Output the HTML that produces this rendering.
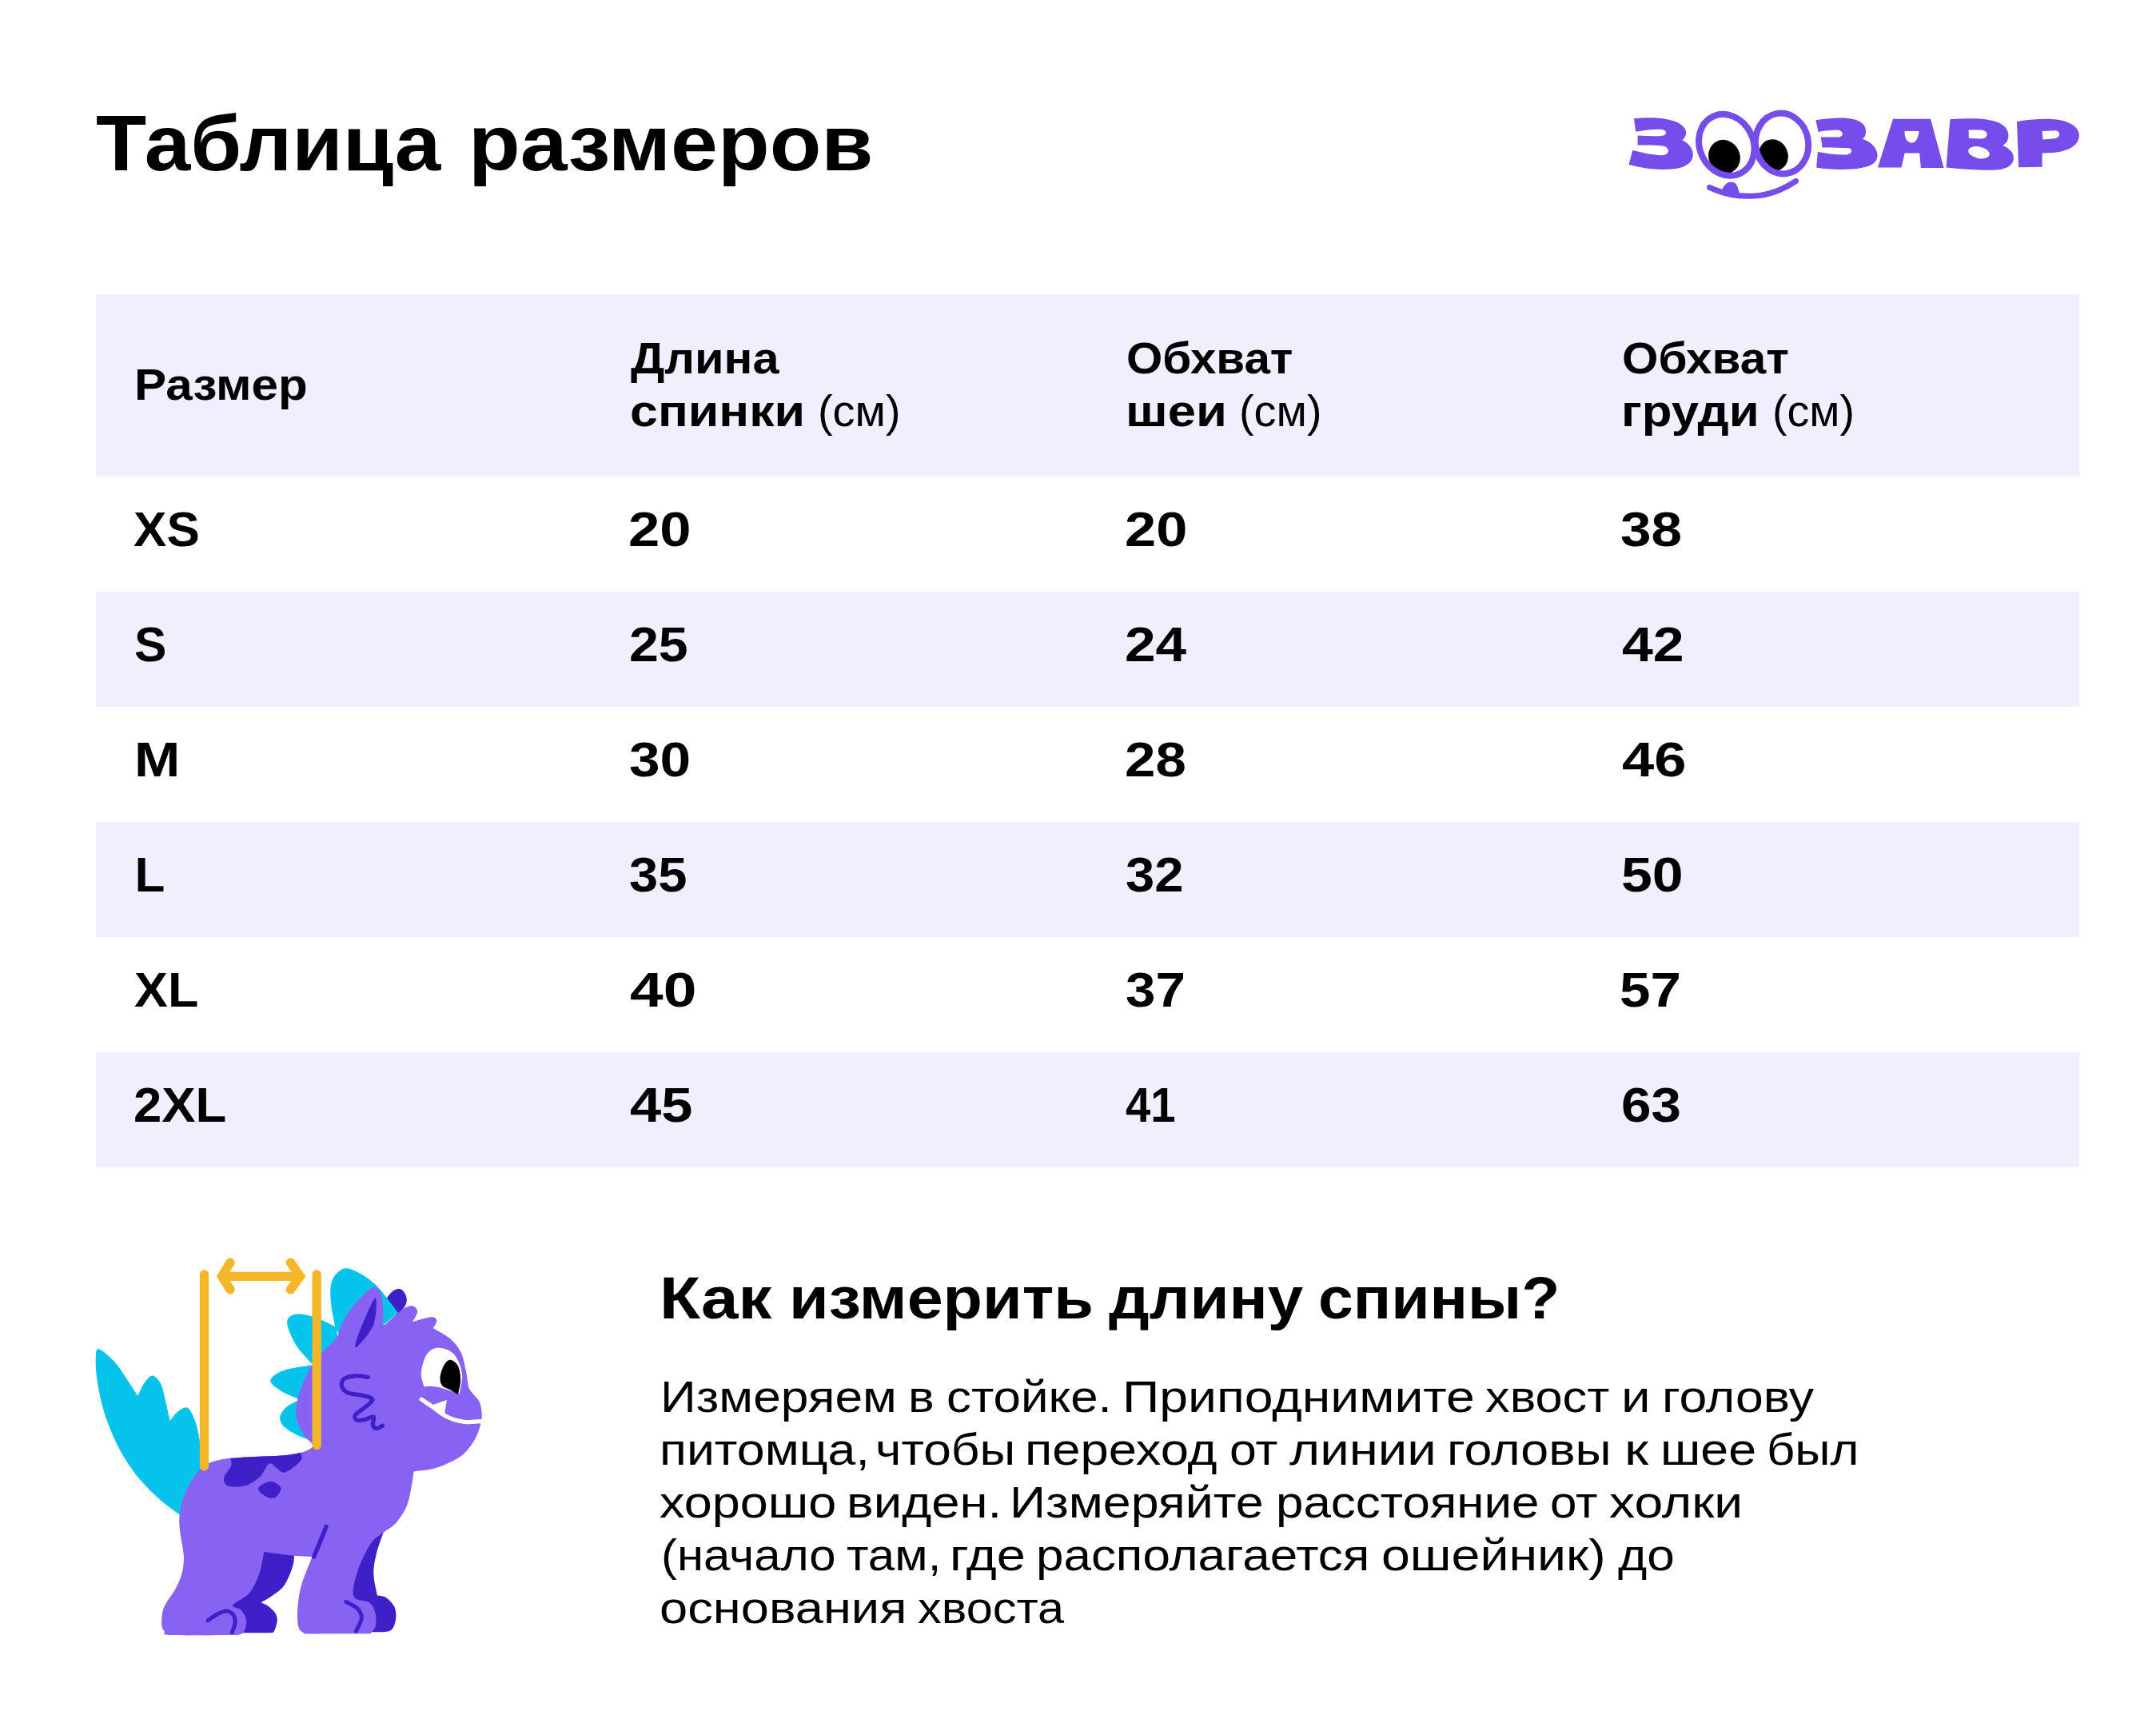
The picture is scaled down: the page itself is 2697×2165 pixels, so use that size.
<!DOCTYPE html>
<html><head><meta charset="utf-8"><style>
html,body{margin:0;padding:0;background:#fff;}
body{width:2697px;height:2165px;position:relative;overflow:hidden;}
.b{position:absolute;left:120px;width:2481px;background:#F1EFFD;}
.t{position:absolute;white-space:nowrap;color:#000;font-family:"Liberation Sans",sans-serif;transform-origin:0 0;}
svg{position:absolute;left:0;top:0;}
</style></head><body>
<div class="b" style="top:368px;height:228px"></div>
<div class="b" style="top:740px;height:144px"></div>
<div class="b" style="top:1028px;height:144px"></div>
<div class="b" style="top:1316px;height:144px"></div>
<svg width="2697" height="2165" viewBox="0 0 2697 2165">
<g fill="#764CEB" fill-rule="evenodd">
<path d="M2043.9,148.3 C2065,146 2092,147.5 2103,156 C2111,162 2111,170 2104.2,175.2 C2115,180 2120,190 2117,198 C2113,209 2098,212 2080,212 C2065,212 2050,209 2037.5,206 L2042.2,188 C2055,191 2068,194 2078,194.3 C2090,194.5 2090,183 2078,182.3 C2068,181.7 2058,181.6 2048.6,181.6 L2048.6,169.4 C2060,170 2072,170.5 2078,170 C2087,169 2086,162 2077,161.7 C2066,161.3 2055,163 2046.2,164.8 Z"/><path d="M2271.4,150.3 C2285,148 2300,147 2312,148 C2330,150 2335,158 2334,166 C2333.5,170 2332,172 2329.8,173.8 C2342,178 2348.5,186 2348.5,194.5 C2348.5,206 2335,211.5 2305,212 C2290,212 2280,211 2272.2,209.5 L2273.8,190.1 C2285,192 2298,193.5 2308.7,193.6 C2318,193.5 2318,185.5 2312,185.2 C2300,184.7 2290,184.5 2279.5,184.4 L2277.9,171.4 C2285,171.4 2293,171.4 2300.6,171.4 C2306,171 2307,164 2299,162.5 C2290,162.5 2282,163.5 2274.6,164.9 Z"/><path d="M2368,148.7 L2415,148.7 L2431.6,209.9 L2402.9,209.9 L2401.2,191.4 L2382.6,191.4 L2378.5,209.5 L2349,209.5 Z M2382.6,164.1 L2400.4,164.1 C2400,172 2397,178.7 2391.5,178.7 C2386,178.7 2382,173 2382.6,164.1 Z"/><path d="M2439.4,149.2 C2455,148.3 2465,148 2475,148.5 C2500,150 2512,157 2512.4,169 C2512.5,176 2509,180 2505.1,182 C2515,186 2519,192 2518.9,198 C2518.5,208 2508,212.8 2490.5,212.8 C2470,212.8 2450,211 2434.5,209.5 Z M2462.6,162.5 L2478,162.5 C2484,163 2486,166 2485.6,169 C2485,172 2482,173.5 2478,173.5 L2462.9,173 Z"/><path d="M2523,151.9 C2535,149.8 2548,148.7 2560.3,148.7 C2585,148.7 2600.5,157 2600.9,169 C2601,180 2590,189 2568.4,190.9 L2554.6,191.4 L2554.6,208.7 L2525.1,209.2 Z M2554.6,164.1 L2571.7,163.3 C2576,164 2576.5,168 2575.7,170 C2574,172.5 2571,173.5 2568.4,173.5 L2555.5,174.6 Z"/>
<ellipse cx="2475.5" cy="190.8" rx="13.5" ry="7.3" transform="rotate(12 2475.5 190.8)" fill="#fff"/>
</g>
<defs>
<clipPath id="e1"><ellipse cx="2159.8" cy="181.3" rx="33" ry="39" transform="rotate(-26 2159.8 181.3)"/></clipPath>
<clipPath id="e2"><ellipse cx="2229.1" cy="179.5" rx="33" ry="38" transform="rotate(-10 2229.1 179.5)"/></clipPath>
</defs>
<g clip-path="url(#e1)"><ellipse cx="2157" cy="196" rx="19.5" ry="21.5" transform="rotate(-25 2157 196)" fill="#000"/></g>
<g clip-path="url(#e2)"><ellipse cx="2218.5" cy="194" rx="18" ry="20" transform="rotate(-25 2218.5 194)" fill="#000"/></g>
<ellipse cx="2159.8" cy="181.3" rx="33.5" ry="39.5" transform="rotate(-26 2159.8 181.3)" fill="none" stroke="#764CEB" stroke-width="8"/>
<ellipse cx="2229.1" cy="179.5" rx="33" ry="38" transform="rotate(-10 2229.1 179.5)" fill="none" stroke="#764CEB" stroke-width="8"/>
<path d="M2138.5,234.5 C2160,244 2175,246 2195,245 C2215,244 2232,236 2246.5,226.5" fill="none" stroke="#764CEB" stroke-width="7" stroke-linecap="round"/>
<path d="M2153,240 C2157,230 2161,227.5 2166,227.5 C2171,227.5 2174,232 2176,243 L2165,245 Z" fill="#764CEB"/>

<defs><clipPath id="bodyclip"><path d="M370.3,1760.6 C371.2,1753.4 374.0,1743.2 377.2,1734.6 C380.4,1725.9 384.4,1716.5 389.3,1708.7 C394.2,1700.9 401.5,1693.7 406.7,1687.9 C411.9,1682.1 417.0,1679.2 420.5,1674.0 C424.0,1668.8 424.0,1663.4 427.5,1656.7 C431.0,1650.0 435.2,1641.6 441.3,1634.1 C447.4,1626.6 458.6,1615.3 463.8,1611.6 C469.0,1607.8 470.2,1609.9 472.5,1611.6 C474.8,1613.3 476.6,1616.8 477.7,1622.0 C478.8,1627.2 479.2,1636.9 479.4,1642.8 C479.5,1648.7 478.9,1652.6 478.6,1657.5 C480.3,1656.6 479.6,1658.2 483.8,1654.9 C488.0,1651.6 498.4,1641.2 503.7,1637.6 C509.0,1634.0 512.8,1633.1 515.8,1633.3 C518.8,1633.5 521.0,1636.6 521.9,1638.5 C522.8,1640.4 522.0,1642.0 521.0,1644.5 C520.0,1647.0 517.5,1650.3 515.8,1653.2 C522.2,1651.5 530.3,1648.9 534.9,1648.0 C539.5,1647.1 541.7,1647.1 543.6,1648.0 C545.5,1648.9 546.5,1651.0 546.2,1653.2 C545.9,1655.4 543.3,1658.4 541.8,1661.0 C548.7,1665.3 556.8,1669.0 562.6,1674.0 C568.4,1679.0 573.0,1684.1 576.5,1691.3 C580.0,1698.5 581.7,1709.8 583.4,1717.3 C585.1,1724.8 584.3,1730.6 586.9,1736.4 C589.5,1742.2 596.4,1747.1 599.0,1752.0 C601.6,1756.9 602.1,1761.2 602.5,1765.8 C602.9,1770.4 603.1,1773.9 601.6,1779.7 C600.1,1785.5 598.0,1793.6 593.8,1800.5 C589.6,1807.4 584.6,1815.4 576.5,1821.3 C568.4,1827.2 555.1,1832.8 545.3,1836.0 C535.5,1839.2 526.8,1838.9 517.6,1840.4 C516.6,1846.9 516.1,1852.7 514.6,1860.0 C513.1,1867.3 511.9,1876.5 508.6,1884.0 C505.4,1891.5 499.9,1899.7 495.1,1905.1 C490.4,1910.5 485.1,1912.4 480.1,1916.4 C475.1,1920.4 470.0,1922.2 465.0,1929.1 C460.0,1936.0 453.9,1947.9 450.0,1957.7 C446.1,1967.5 442.6,1980.7 441.8,1987.7 C441.1,1994.7 442.1,1997.0 445.5,1999.7 C448.9,2002.5 458.0,2001.2 462.0,2004.2 C466.0,2007.2 468.2,2012.7 469.5,2017.7 C470.8,2022.7 470.5,2030.0 469.5,2034.2 C468.5,2038.5 465.5,2040.2 463.5,2043.2 C436.1,2043.3 408.7,2043.3 381.3,2043.4 C378.8,2040.8 375.2,2040.6 373.7,2035.7 C372.2,2030.8 371.7,2023.0 372.2,2014.3 C372.7,2005.6 373.6,1994.9 376.7,1983.7 C379.8,1972.5 385.9,1959.2 390.5,1947.0 C383.1,1946.6 375.6,1946.5 368.2,1945.8 C360.8,1945.1 352.1,1943.7 345.8,1942.9 C339.5,1942.1 335.5,1941.6 330.3,1940.9 C328.3,1950.0 327.5,1959.6 324.4,1968.2 C321.3,1976.8 317.3,1985.9 311.8,1992.5 C306.3,1999.1 292.9,2004.0 291.3,2007.6 C289.7,2011.2 299.2,2010.9 302.0,2014.0 C304.8,2017.1 307.1,2022.3 307.9,2026.0 C308.7,2029.7 307.6,2033.3 307.0,2036.0 C306.4,2038.7 305.6,2040.7 304.0,2042.2 C302.4,2043.7 299.4,2044.1 297.1,2045.1 C269.5,2045.1 229.6,2045.9 214.3,2045.1 C199.1,2044.3 207.6,2042.6 205.6,2040.3 C203.6,2038.0 202.5,2035.7 202.2,2031.5 C201.9,2027.3 202.4,2019.8 203.6,2014.9 C204.8,2010.0 206.9,2006.8 209.5,2002.3 C212.1,1997.8 216.3,1993.1 219.2,1987.7 C222.1,1982.3 225.2,1976.1 227.0,1970.1 C228.8,1964.1 229.6,1956.8 229.9,1951.6 C230.2,1946.4 229.8,1945.2 229.0,1939.0 C228.2,1932.8 225.8,1921.9 225.1,1914.6 C224.4,1907.3 223.8,1902.1 224.6,1895.0 C225.4,1887.9 227.2,1879.3 229.8,1871.9 C232.5,1864.5 236.4,1856.9 240.5,1850.5 C244.6,1844.1 249.2,1837.7 254.3,1833.7 C259.4,1829.8 265.2,1828.5 271.1,1826.8 C277.0,1825.1 280.1,1824.6 289.5,1823.7 C298.9,1822.8 316.3,1822.0 327.8,1821.4 C339.3,1820.8 349.5,1820.9 358.4,1819.9 C367.3,1818.9 375.9,1817.3 381.3,1815.3 C386.7,1813.3 391.1,1811.3 391.0,1808.0 C390.9,1804.7 383.9,1800.3 380.7,1795.3 C377.5,1790.3 373.7,1783.8 372.0,1778.0 C370.3,1772.2 369.4,1767.8 370.3,1760.6 Z"/></clipPath></defs>
<path d="M478.0,1632.0 C482.0,1626.7 486.2,1619.3 490.0,1616.0 C493.8,1612.7 497.9,1611.3 501.0,1612.3 C504.1,1613.3 507.3,1618.5 508.3,1622.0 C509.3,1625.5 508.9,1629.2 507.0,1633.0 C505.1,1636.8 500.2,1641.0 496.8,1645.0 C490.5,1640.7 484.3,1636.3 478.0,1632.0 Z" fill="#3F20C8"/>
<g fill="#05C3EA"><path d="M123.8,1687.3 C127.7,1688.2 137.6,1697.2 143.3,1703.2 C149.0,1709.2 153.0,1716.3 157.8,1723.4 C162.6,1730.5 167.4,1738.3 172.2,1745.8 C175.1,1740.3 177.8,1733.4 180.9,1729.2 C184.0,1725.0 187.6,1720.3 191.0,1720.5 C194.4,1720.7 198.4,1725.3 201.1,1730.6 C203.8,1735.8 205.1,1744.3 207.0,1752.0 C208.9,1759.7 210.7,1768.6 212.6,1776.9 C216.0,1773.0 219.0,1768.0 222.7,1765.3 C226.4,1762.6 231.4,1758.8 235.0,1761.0 C238.6,1763.2 242.0,1771.8 244.4,1778.3 C246.8,1784.8 247.9,1790.5 249.5,1800.0 C251.1,1809.5 255.6,1824.7 254.0,1835.0 C252.4,1845.3 244.7,1853.0 240.0,1862.0 C235.2,1873.1 230.4,1884.2 225.6,1895.3 C217.4,1889.0 209.5,1884.0 201.1,1876.5 C192.7,1869.0 183.5,1860.8 175.1,1850.5 C166.7,1840.2 157.7,1827.7 150.5,1814.4 C143.3,1801.2 136.6,1785.4 131.8,1771.0 C127.0,1756.6 123.7,1740.0 121.7,1727.8 C119.7,1715.6 119.5,1704.8 119.8,1698.0 C120.1,1691.2 119.9,1686.4 123.8,1687.3 Z"/><path d="M428.3,1587.3 C433.3,1585.1 438.1,1586.7 445.0,1590.0 C451.9,1593.3 461.1,1598.3 470.0,1607.0 C478.9,1615.7 488.8,1630.3 498.2,1641.9 C478.8,1657.9 459.4,1674.0 440.0,1690.0 C433.2,1680.7 426.5,1671.3 419.7,1662.0 C417.8,1651.3 414.8,1639.8 414.0,1630.0 C413.2,1620.2 412.6,1610.1 415.0,1603.0 C417.4,1595.9 423.3,1589.5 428.3,1587.3 Z"/><path d="M359.8,1650.0 C361.5,1646.4 366.1,1643.8 372.0,1643.5 C377.9,1643.2 386.8,1645.2 395.0,1648.0 C403.2,1650.8 412.3,1656.0 421.0,1660.0 C422.3,1673.3 423.7,1686.7 425.0,1700.0 C413.2,1701.8 401.4,1703.5 389.6,1705.3 C383.7,1698.5 376.6,1691.7 372.0,1685.0 C367.4,1678.3 363.9,1670.9 361.9,1665.1 C359.9,1659.3 358.1,1653.6 359.8,1650.0 Z"/><path d="M338.2,1726.8 C338.7,1722.5 346.0,1717.3 355.0,1714.0 C364.0,1710.7 379.7,1709.3 392.0,1707.0 C393.0,1723.0 394.0,1739.0 395.0,1755.0 C386.8,1752.8 378.5,1750.7 370.3,1748.5 C364.2,1745.7 357.4,1743.6 352.0,1740.0 C346.6,1736.4 337.7,1731.1 338.2,1726.8 Z"/><path d="M350.3,1772.0 C351.0,1768.2 354.4,1763.3 358.0,1760.0 C361.6,1756.7 367.3,1754.7 372.0,1752.0 C380.7,1754.7 389.3,1757.3 398.0,1760.0 C398.0,1776.7 398.0,1793.3 398.0,1810.0 C395.2,1807.5 392.4,1804.9 389.6,1802.4 C382.4,1799.3 373.9,1796.2 368.0,1793.0 C362.1,1789.8 356.9,1786.5 354.0,1783.0 C351.1,1779.5 349.6,1775.8 350.3,1772.0 Z"/></g>
<path d="M328.0,1936.0 C341.4,1937.7 354.8,1939.3 368.2,1941.0 C367.6,1946.8 368.4,1951.4 366.3,1958.4 C364.2,1965.4 359.8,1976.6 355.6,1982.8 C351.4,1989.0 345.9,1991.8 341.0,1995.4 C336.1,1999.0 331.3,2001.3 326.4,2004.2 C329.0,2005.5 331.3,2006.0 334.2,2008.1 C337.1,2010.2 341.8,2013.8 343.9,2016.9 C346.0,2020.0 347.0,2022.7 346.8,2026.6 C346.6,2030.5 344.4,2037.7 342.9,2040.3 C341.4,2042.9 339.6,2041.6 338.0,2042.2 C323.7,2042.2 309.3,2042.2 295.0,2042.2 C291.7,2033.1 288.3,2024.1 285.0,2015.0 C290.0,2006.7 295.0,1998.3 300.0,1990.0 C305.0,1981.7 310.3,1974.0 315.0,1965.0 C319.7,1956.0 323.7,1945.7 328.0,1936.0 Z" fill="#3F20C8"/><path d="M482.0,1910.0 C478.3,1920.9 473.4,1932.9 471.0,1942.6 C468.6,1952.3 467.2,1959.4 467.3,1968.2 C467.4,1977.0 470.3,1986.2 471.8,1995.2 C475.6,1996.2 479.5,1995.7 483.1,1998.2 C486.7,2000.7 491.6,2005.7 493.6,2010.2 C495.6,2014.7 495.6,2020.7 495.1,2025.2 C494.6,2029.7 492.9,2034.6 490.6,2037.2 C488.4,2039.8 486.7,2040.4 481.6,2041.0 C476.5,2041.6 467.2,2041.0 460.0,2041.0 C451.7,2027.3 443.3,2013.7 435.0,2000.0 C436.7,1983.3 435.5,1964.2 440.0,1950.0 C444.5,1935.8 455.0,1921.7 462.0,1915.0 C469.0,1908.3 475.3,1911.7 482.0,1910.0 Z" fill="#3F20C8"/>
<path d="M370.3,1760.6 C371.2,1753.4 374.0,1743.2 377.2,1734.6 C380.4,1725.9 384.4,1716.5 389.3,1708.7 C394.2,1700.9 401.5,1693.7 406.7,1687.9 C411.9,1682.1 417.0,1679.2 420.5,1674.0 C424.0,1668.8 424.0,1663.4 427.5,1656.7 C431.0,1650.0 435.2,1641.6 441.3,1634.1 C447.4,1626.6 458.6,1615.3 463.8,1611.6 C469.0,1607.8 470.2,1609.9 472.5,1611.6 C474.8,1613.3 476.6,1616.8 477.7,1622.0 C478.8,1627.2 479.2,1636.9 479.4,1642.8 C479.5,1648.7 478.9,1652.6 478.6,1657.5 C480.3,1656.6 479.6,1658.2 483.8,1654.9 C488.0,1651.6 498.4,1641.2 503.7,1637.6 C509.0,1634.0 512.8,1633.1 515.8,1633.3 C518.8,1633.5 521.0,1636.6 521.9,1638.5 C522.8,1640.4 522.0,1642.0 521.0,1644.5 C520.0,1647.0 517.5,1650.3 515.8,1653.2 C522.2,1651.5 530.3,1648.9 534.9,1648.0 C539.5,1647.1 541.7,1647.1 543.6,1648.0 C545.5,1648.9 546.5,1651.0 546.2,1653.2 C545.9,1655.4 543.3,1658.4 541.8,1661.0 C548.7,1665.3 556.8,1669.0 562.6,1674.0 C568.4,1679.0 573.0,1684.1 576.5,1691.3 C580.0,1698.5 581.7,1709.8 583.4,1717.3 C585.1,1724.8 584.3,1730.6 586.9,1736.4 C589.5,1742.2 596.4,1747.1 599.0,1752.0 C601.6,1756.9 602.1,1761.2 602.5,1765.8 C602.9,1770.4 603.1,1773.9 601.6,1779.7 C600.1,1785.5 598.0,1793.6 593.8,1800.5 C589.6,1807.4 584.6,1815.4 576.5,1821.3 C568.4,1827.2 555.1,1832.8 545.3,1836.0 C535.5,1839.2 526.8,1838.9 517.6,1840.4 C516.6,1846.9 516.1,1852.7 514.6,1860.0 C513.1,1867.3 511.9,1876.5 508.6,1884.0 C505.4,1891.5 499.9,1899.7 495.1,1905.1 C490.4,1910.5 485.1,1912.4 480.1,1916.4 C475.1,1920.4 470.0,1922.2 465.0,1929.1 C460.0,1936.0 453.9,1947.9 450.0,1957.7 C446.1,1967.5 442.6,1980.7 441.8,1987.7 C441.1,1994.7 442.1,1997.0 445.5,1999.7 C448.9,2002.5 458.0,2001.2 462.0,2004.2 C466.0,2007.2 468.2,2012.7 469.5,2017.7 C470.8,2022.7 470.5,2030.0 469.5,2034.2 C468.5,2038.5 465.5,2040.2 463.5,2043.2 C436.1,2043.3 408.7,2043.3 381.3,2043.4 C378.8,2040.8 375.2,2040.6 373.7,2035.7 C372.2,2030.8 371.7,2023.0 372.2,2014.3 C372.7,2005.6 373.6,1994.9 376.7,1983.7 C379.8,1972.5 385.9,1959.2 390.5,1947.0 C383.1,1946.6 375.6,1946.5 368.2,1945.8 C360.8,1945.1 352.1,1943.7 345.8,1942.9 C339.5,1942.1 335.5,1941.6 330.3,1940.9 C328.3,1950.0 327.5,1959.6 324.4,1968.2 C321.3,1976.8 317.3,1985.9 311.8,1992.5 C306.3,1999.1 292.9,2004.0 291.3,2007.6 C289.7,2011.2 299.2,2010.9 302.0,2014.0 C304.8,2017.1 307.1,2022.3 307.9,2026.0 C308.7,2029.7 307.6,2033.3 307.0,2036.0 C306.4,2038.7 305.6,2040.7 304.0,2042.2 C302.4,2043.7 299.4,2044.1 297.1,2045.1 C269.5,2045.1 229.6,2045.9 214.3,2045.1 C199.1,2044.3 207.6,2042.6 205.6,2040.3 C203.6,2038.0 202.5,2035.7 202.2,2031.5 C201.9,2027.3 202.4,2019.8 203.6,2014.9 C204.8,2010.0 206.9,2006.8 209.5,2002.3 C212.1,1997.8 216.3,1993.1 219.2,1987.7 C222.1,1982.3 225.2,1976.1 227.0,1970.1 C228.8,1964.1 229.6,1956.8 229.9,1951.6 C230.2,1946.4 229.8,1945.2 229.0,1939.0 C228.2,1932.8 225.8,1921.9 225.1,1914.6 C224.4,1907.3 223.8,1902.1 224.6,1895.0 C225.4,1887.9 227.2,1879.3 229.8,1871.9 C232.5,1864.5 236.4,1856.9 240.5,1850.5 C244.6,1844.1 249.2,1837.7 254.3,1833.7 C259.4,1829.8 265.2,1828.5 271.1,1826.8 C277.0,1825.1 280.1,1824.6 289.5,1823.7 C298.9,1822.8 316.3,1822.0 327.8,1821.4 C339.3,1820.8 349.5,1820.9 358.4,1819.9 C367.3,1818.9 375.9,1817.3 381.3,1815.3 C386.7,1813.3 391.1,1811.3 391.0,1808.0 C390.9,1804.7 383.9,1800.3 380.7,1795.3 C377.5,1790.3 373.7,1783.8 372.0,1778.0 C370.3,1772.2 369.4,1767.8 370.3,1760.6 Z" fill="#8862F2"/>
<g clip-path="url(#bodyclip)" fill="#3F20C8"><path d="M284.9,1815.0 C286.4,1820.7 290.3,1826.7 289.5,1832.1 C288.7,1837.5 281.1,1843.2 280.3,1847.5 C279.5,1851.8 280.6,1856.4 284.9,1858.2 C289.2,1860.0 299.7,1860.0 306.3,1858.2 C312.9,1856.4 319.6,1852.1 324.7,1847.5 C329.8,1842.9 333.3,1832.5 336.9,1830.6 C340.4,1828.7 342.7,1834.2 346.0,1836.0 C349.3,1837.8 351.7,1843.0 356.8,1841.3 C361.9,1839.6 373.9,1830.9 376.7,1826.0 C379.5,1821.1 374.7,1816.7 373.7,1812.0 C344.1,1813.0 314.5,1814.0 284.9,1815.0 Z"/><path d="M323.2,1861.2 C324.5,1858.3 333.8,1852.8 338.5,1852.8 C343.2,1852.8 350.7,1857.8 351.5,1861.2 C352.3,1864.7 346.6,1872.0 343.1,1873.5 C339.7,1875.0 334.1,1872.5 330.8,1870.4 C327.5,1868.4 321.9,1864.1 323.2,1861.2 Z"/></g>
<path d="M469.0,1623.7 C472.0,1622.0 471.2,1646.5 467.3,1656.7 C463.4,1667.0 448.6,1683.5 445.6,1685.2 C442.6,1686.9 445.2,1677.2 449.1,1667.0 C453.0,1656.8 466.0,1625.4 469.0,1623.7 Z" fill="#3F20C8"/>
<path d="M527.1,1714.7 C528.0,1709.5 530.2,1699.6 533.2,1694.8 C536.2,1690.0 540.4,1687.0 545.3,1686.1 C550.2,1685.2 558.0,1687.0 562.6,1689.6 C567.2,1692.2 570.4,1696.5 573.0,1701.7 C575.6,1706.9 577.9,1713.9 578.2,1720.8 C578.5,1727.7 575.9,1735.8 574.8,1743.3 C567.9,1741.0 560.1,1738.0 554.0,1736.4 C547.9,1734.8 542.3,1734.1 538.4,1733.8 C534.5,1733.5 533.2,1734.3 530.6,1734.6 C529.7,1731.7 528.6,1729.3 528.0,1726.0 C527.4,1722.7 526.2,1719.9 527.1,1714.7 Z" fill="#fff"/>
<path d="M550.5,1722.5 C550.9,1718.2 553.5,1710.5 555.7,1706.9 C557.9,1703.3 560.6,1700.5 563.5,1700.8 C566.4,1701.1 570.9,1704.4 573.0,1708.6 C575.1,1712.8 576.2,1720.1 576.2,1726.0 C576.2,1731.9 574.1,1738.1 573.0,1744.2 C569.5,1742.2 565.9,1740.0 562.6,1738.1 C559.3,1736.2 555.1,1735.5 553.1,1732.9 C551.1,1730.3 550.1,1726.8 550.5,1722.5 Z" fill="#000"/>
<path d="M527.1,1750.2 C529.3,1751.7 534.8,1755.3 540.1,1758.9 C545.4,1762.5 552.2,1768.7 558.9,1771.9 C565.6,1775.2 573.4,1777.5 580.5,1778.4 C587.6,1779.4 598.0,1777.7 601.5,1777.6" fill="none" stroke="#fff" stroke-width="5.2" stroke-linecap="round"/>
<path d="M538.5,1758 L558.9,1750.9 L556,1769 Z" fill="#fff"/>
<path d="M460.4,1722.5 C457.8,1722.2 449.7,1720.5 444.8,1720.8 C439.9,1721.1 433.8,1722.2 430.9,1724.2 C428.0,1726.2 426.9,1730.0 427.5,1732.9 C428.1,1735.8 430.4,1739.6 434.4,1741.6 C438.4,1743.6 446.5,1743.7 451.7,1745.0 C456.9,1746.3 464.2,1747.4 465.6,1749.4 C467.1,1751.4 463.9,1753.9 460.4,1757.2 C456.9,1760.5 447.1,1766.1 444.8,1769.3 C442.5,1772.5 444.5,1775.2 446.5,1776.2 C448.5,1777.2 453.4,1776.1 456.9,1775.4 C460.4,1774.7 465.7,1770.8 467.3,1771.9 C468.9,1773.1 465.8,1779.8 466.4,1782.3 C467.0,1784.8 468.8,1786.4 470.8,1786.6 C472.8,1786.8 477.3,1783.8 478.6,1783.2" fill="none" stroke="#3F20C8" stroke-width="5.2" stroke-linecap="round" stroke-linejoin="round"/>
<path d="M408.1,1909.4 L392.8,1947" stroke="#3F20C8" stroke-width="5.4" stroke-linecap="round"/>
<path d="M260.1,2026.6 C262.2,2025.2 268.9,2020.4 272.8,2018.5 C276.7,2016.6 280.3,2014.8 283.5,2015.0 C286.7,2015.2 290.2,2017.5 292.0,2020.0 C293.8,2022.5 294.3,2026.4 294.0,2030.0 C293.7,2033.6 290.9,2039.6 290.3,2041.5" fill="none" stroke="#3F20C8" stroke-width="5" stroke-linecap="round"/>
<path d="M432.8,2003.5 C435.2,2004.9 443.8,2008.3 447.0,2011.7 C450.2,2015.1 452.6,2019.0 452.3,2023.7 C452.1,2028.5 446.6,2037.5 445.5,2040.2" fill="none" stroke="#3F20C8" stroke-width="5" stroke-linecap="round"/>
<g stroke="#F5B72A" stroke-width="11.3" stroke-linecap="round" fill="none">
<path d="M255.5,1594 L255.5,1833.8"/><path d="M396.2,1594 L396.2,1807.5"/>
<path d="M279.4,1596.4 L374,1596.4"/>
<path d="M288,1579.1 L277.5,1596.4 L288,1612.9" stroke-linejoin="miter"/>
<path d="M363.4,1579.1 L375.5,1596.4 L363.4,1612.9" stroke-linejoin="miter"/>
</g>

</svg>
<div class="t" style="left:120.2px;top:129.8px;font-weight:700;font-size:98px;line-height:98px;transform:scaleX(1.0559)">Таблица</div>
<div class="t" style="left:585.7px;top:129.8px;font-weight:700;font-size:98px;line-height:98px;transform:scaleX(1.0802)">размеров</div>
<div class="t" style="left:168.3px;top:453.1px;font-weight:700;font-size:56px;line-height:56px;transform:scaleX(1.0750)">Размер</div>
<div class="t" style="left:788.9px;top:419.7px;font-weight:700;font-size:56px;line-height:56px;transform:scaleX(1.0611)">Длина</div>
<div class="t" style="left:787.5px;top:486.0px;font-weight:700;font-size:56px;line-height:56px;transform:scaleX(1.1200)">спинки</div>
<div class="t" style="left:1022.7px;top:486.0px;font-weight:400;font-size:56px;line-height:56px;transform:scaleX(0.9980)">(см)</div>
<div class="t" style="left:1408.5px;top:419.7px;font-weight:700;font-size:56px;line-height:56px;transform:scaleX(1.0411)">Обхват</div>
<div class="t" style="left:1407.8px;top:486.0px;font-weight:700;font-size:56px;line-height:56px;transform:scaleX(1.1298)">шеи</div>
<div class="t" style="left:1550.2px;top:486.0px;font-weight:400;font-size:56px;line-height:56px;transform:scaleX(0.9980)">(см)</div>
<div class="t" style="left:2028.6px;top:419.7px;font-weight:700;font-size:56px;line-height:56px;transform:scaleX(1.0431)">Обхват</div>
<div class="t" style="left:2028.3px;top:486.0px;font-weight:700;font-size:56px;line-height:56px;transform:scaleX(1.1027)">груди</div>
<div class="t" style="left:2216.7px;top:486.0px;font-weight:400;font-size:56px;line-height:56px;transform:scaleX(0.9918)">(см)</div>
<div class="t" style="left:167.1px;top:630.8px;font-weight:700;font-size:62px;line-height:62px;transform:scaleX(1.0000)">XS</div>
<div class="t" style="left:785.8px;top:630.8px;font-weight:700;font-size:62px;line-height:62px;transform:scaleX(1.1385)">20</div>
<div class="t" style="left:1406.6px;top:630.8px;font-weight:700;font-size:62px;line-height:62px;transform:scaleX(1.1354)">20</div>
<div class="t" style="left:2027.2px;top:630.8px;font-weight:700;font-size:62px;line-height:62px;transform:scaleX(1.1182)">38</div>
<div class="t" style="left:167.5px;top:774.8px;font-weight:700;font-size:62px;line-height:62px;transform:scaleX(0.9757)">S</div>
<div class="t" style="left:787.1px;top:774.8px;font-weight:700;font-size:62px;line-height:62px;transform:scaleX(1.0692)">25</div>
<div class="t" style="left:1406.6px;top:774.8px;font-weight:700;font-size:62px;line-height:62px;transform:scaleX(1.1194)">24</div>
<div class="t" style="left:2028.9px;top:774.8px;font-weight:700;font-size:62px;line-height:62px;transform:scaleX(1.1258)">42</div>
<div class="t" style="left:168.1px;top:918.8px;font-weight:700;font-size:62px;line-height:62px;transform:scaleX(1.1091)">M</div>
<div class="t" style="left:787.4px;top:918.8px;font-weight:700;font-size:62px;line-height:62px;transform:scaleX(1.1197)">30</div>
<div class="t" style="left:1406.6px;top:918.8px;font-weight:700;font-size:62px;line-height:62px;transform:scaleX(1.1138)">28</div>
<div class="t" style="left:2028.8px;top:918.8px;font-weight:700;font-size:62px;line-height:62px;transform:scaleX(1.1667)">46</div>
<div class="t" style="left:168.5px;top:1062.8px;font-weight:700;font-size:62px;line-height:62px;transform:scaleX(1.0000)">L</div>
<div class="t" style="left:787.4px;top:1062.8px;font-weight:700;font-size:62px;line-height:62px;transform:scaleX(1.0515)">35</div>
<div class="t" style="left:1407.7px;top:1062.8px;font-weight:700;font-size:62px;line-height:62px;transform:scaleX(1.0515)">32</div>
<div class="t" style="left:2027.7px;top:1062.8px;font-weight:700;font-size:62px;line-height:62px;transform:scaleX(1.1262)">50</div>
<div class="t" style="left:167.8px;top:1206.8px;font-weight:700;font-size:62px;line-height:62px;transform:scaleX(1.0132)">XL</div>
<div class="t" style="left:788.0px;top:1206.8px;font-weight:700;font-size:62px;line-height:62px;transform:scaleX(1.2091)">40</div>
<div class="t" style="left:1407.7px;top:1206.8px;font-weight:700;font-size:62px;line-height:62px;transform:scaleX(1.0862)">37</div>
<div class="t" style="left:2025.9px;top:1206.8px;font-weight:700;font-size:62px;line-height:62px;transform:scaleX(1.1156)">57</div>
<div class="t" style="left:166.8px;top:1350.8px;font-weight:700;font-size:62px;line-height:62px;transform:scaleX(1.0236)">2XL</div>
<div class="t" style="left:788.1px;top:1350.8px;font-weight:700;font-size:62px;line-height:62px;transform:scaleX(1.1364)">45</div>
<div class="t" style="left:1407.9px;top:1350.8px;font-weight:700;font-size:62px;line-height:62px;transform:scaleX(0.9091)">41</div>
<div class="t" style="left:2027.8px;top:1350.8px;font-weight:700;font-size:62px;line-height:62px;transform:scaleX(1.0862)">63</div>
<div class="t" style="left:825.2px;top:1586.9px;font-weight:700;font-size:74px;line-height:74px;transform:scaleX(1.1303)">Как</div>
<div class="t" style="left:986.7px;top:1586.9px;font-weight:700;font-size:74px;line-height:74px;transform:scaleX(1.0924)">измерить</div>
<div class="t" style="left:1387.0px;top:1586.9px;font-weight:700;font-size:74px;line-height:74px;transform:scaleX(1.0791)">длину</div>
<div class="t" style="left:1648.8px;top:1586.9px;font-weight:700;font-size:74px;line-height:74px;transform:scaleX(1.0625)">спины?</div>
<div class="t" style="left:825.8px;top:1719.9px;font-weight:400;font-size:55px;line-height:55px;transform:scaleX(1.1323)">Измеряем</div>
<div class="t" style="left:1136.4px;top:1719.9px;font-weight:400;font-size:55px;line-height:55px;transform:scaleX(1.1174)">в</div>
<div class="t" style="left:1184.3px;top:1719.9px;font-weight:400;font-size:55px;line-height:55px;transform:scaleX(1.1243)">стойке.</div>
<div class="t" style="left:1403.8px;top:1719.9px;font-weight:400;font-size:55px;line-height:55px;transform:scaleX(1.1697)">Приподнимите</div>
<div class="t" style="left:1858.0px;top:1719.9px;font-weight:400;font-size:55px;line-height:55px;transform:scaleX(1.1145)">хвост</div>
<div class="t" style="left:2027.7px;top:1719.9px;font-weight:400;font-size:55px;line-height:55px;transform:scaleX(1.1913)">и</div>
<div class="t" style="left:2079.4px;top:1719.9px;font-weight:400;font-size:55px;line-height:55px;transform:scaleX(1.1374)">голову</div>
<div class="t" style="left:825.3px;top:1785.9px;font-weight:400;font-size:55px;line-height:55px;transform:scaleX(1.1383)">питомца,</div>
<div class="t" style="left:1095.1px;top:1785.9px;font-weight:400;font-size:55px;line-height:55px;transform:scaleX(1.1311)">чтобы</div>
<div class="t" style="left:1282.4px;top:1785.9px;font-weight:400;font-size:55px;line-height:55px;transform:scaleX(1.1525)">переход</div>
<div class="t" style="left:1538.4px;top:1785.9px;font-weight:400;font-size:55px;line-height:55px;transform:scaleX(1.1038)">от</div>
<div class="t" style="left:1613.3px;top:1785.9px;font-weight:400;font-size:55px;line-height:55px;transform:scaleX(1.1887)">линии</div>
<div class="t" style="left:1810.4px;top:1785.9px;font-weight:400;font-size:55px;line-height:55px;transform:scaleX(1.1410)">головы</div>
<div class="t" style="left:2031.9px;top:1785.9px;font-weight:400;font-size:55px;line-height:55px;transform:scaleX(1.2500)">к</div>
<div class="t" style="left:2076.5px;top:1785.9px;font-weight:400;font-size:55px;line-height:55px;transform:scaleX(1.1394)">шее</div>
<div class="t" style="left:2209.9px;top:1785.9px;font-weight:400;font-size:55px;line-height:55px;transform:scaleX(1.1198)">был</div>
<div class="t" style="left:825.4px;top:1851.9px;font-weight:400;font-size:55px;line-height:55px;transform:scaleX(1.1447)">хорошо</div>
<div class="t" style="left:1058.9px;top:1851.9px;font-weight:400;font-size:55px;line-height:55px;transform:scaleX(1.1541)">виден.</div>
<div class="t" style="left:1263.4px;top:1851.9px;font-weight:400;font-size:55px;line-height:55px;transform:scaleX(1.1393)">Измеряйте</div>
<div class="t" style="left:1595.6px;top:1851.9px;font-weight:400;font-size:55px;line-height:55px;transform:scaleX(1.1254)">расстояние</div>
<div class="t" style="left:1939.4px;top:1851.9px;font-weight:400;font-size:55px;line-height:55px;transform:scaleX(1.0923)">от</div>
<div class="t" style="left:2013.4px;top:1851.9px;font-weight:400;font-size:55px;line-height:55px;transform:scaleX(1.1683)">холки</div>
<div class="t" style="left:827.3px;top:1917.9px;font-weight:400;font-size:55px;line-height:55px;transform:scaleX(1.0897)">(начало</div>
<div class="t" style="left:1058.6px;top:1917.9px;font-weight:400;font-size:55px;line-height:55px;transform:scaleX(1.0931)">там,</div>
<div class="t" style="left:1187.6px;top:1917.9px;font-weight:400;font-size:55px;line-height:55px;transform:scaleX(1.1824)">где</div>
<div class="t" style="left:1296.0px;top:1917.9px;font-weight:400;font-size:55px;line-height:55px;transform:scaleX(1.1261)">располагается</div>
<div class="t" style="left:1728.1px;top:1917.9px;font-weight:400;font-size:55px;line-height:55px;transform:scaleX(1.1722)">ошейник)</div>
<div class="t" style="left:2024.3px;top:1917.9px;font-weight:400;font-size:55px;line-height:55px;transform:scaleX(1.1300)">до</div>
<div class="t" style="left:824.5px;top:1983.9px;font-weight:400;font-size:55px;line-height:55px;transform:scaleX(1.1498)">основания</div>
<div class="t" style="left:1148.1px;top:1983.9px;font-weight:400;font-size:55px;line-height:55px;transform:scaleX(1.0815)">хвоста</div>
</body></html>
